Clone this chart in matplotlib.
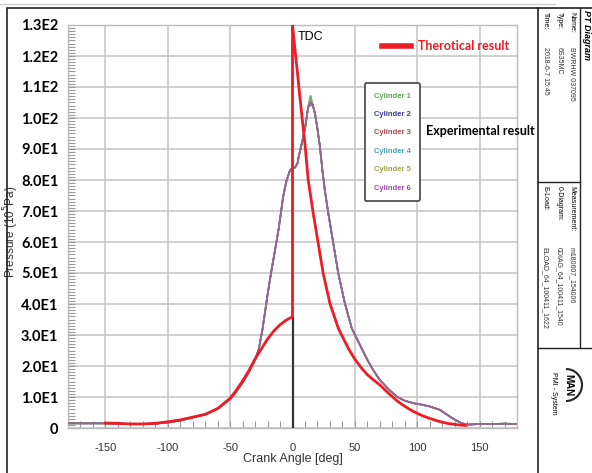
import numpy as np
import matplotlib
matplotlib.use("Agg")
import matplotlib.pyplot as plt
from matplotlib.patches import Rectangle, Arc
from matplotlib.lines import Line2D

plt.rcParams['font.family'] = ['Liberation Sans', 'DejaVu Sans']
plt.rcParams['axes.unicode_minus'] = False

# theoretical pressure trace (10^5 Pa) vs crank angle
theo_angle = [-150, -140, -130, -120, -110, -100, -90, -80, -70, -60, -50, -45, -40, -35,
              -30, -25, -20, -15, -10, -5, -2, 0, 0, 2, 4, 6, 8, 10, 12.6, 16.6, 20.6,
              24.6, 30, 36.7, 40, 45, 50, 55, 60, 65, 70, 77, 84, 90, 97, 104, 110, 117,
              124, 131, 138.6]
theo_p = [1.6, 1.5, 1.3, 1.3, 1.5, 2.0, 2.6, 3.5, 4.4, 6.3, 9.6, 12.2, 15.2, 18.5,
          22.3, 25.5, 28.7, 31.3, 33.3, 34.8, 35.5, 35.8, 130, 122, 114.5, 106.5, 99,
          91.5, 80, 69.3, 59.6, 49.9, 40.2, 32.2, 29.5, 25.5, 22.2, 19.5, 17.2, 15.5,
          13.9, 11.2, 8.7, 7.0, 5.3, 4.0, 3.1, 2.2, 1.5, 1.1, 0.8]

# measured trace (same shape for all cylinders, peaks differ slightly)
exp_angle = [-180, -170, -160, -150, -140, -130, -120, -110, -100, -90, -80, -70, -60,
             -50, -45, -40, -35, -30, -27, -24, -20, -17, -14, -11, -7.5, -5, -2, 0, 2,
             4, 5, 7, 10, 12.6, 14.5, 16, 18, 20, 22, 24, 26, 28.7, 32.7, 36.7, 42, 47.5,
             55, 60, 65, 70, 77, 84, 90, 97, 104, 110.5, 118.5, 122, 126.5, 131, 136, 141,
             150, 160, 170, 180]
exp_p = [1.5, 1.5, 1.5, 1.5, 1.4, 1.3, 1.3, 1.4, 1.8, 2.4, 3.4, 4.4, 6.2, 9.3, 11.8,
         14.6, 18.0, 22.0, 25.5, 32.0, 43.0, 50.5, 57.4, 64.5, 74.6, 79.5, 83.2, 83.8,
         84.0, 85.4, 87.5, 91.0, 96.5, 103.6, 106, 104.5, 101.5, 96.5, 90.7, 83.0, 76.5,
         69.3, 59.6, 49.9, 40.2, 32.2, 26.0, 22.0, 18.5, 15.5, 12.5, 10.0, 8.8, 8.0, 7.5,
         6.9, 5.8, 4.8, 3.6, 2.5, 1.5, 1.1, 1.3, 1.3, 1.4, 1.3]
cyl_names = ['Cylinder 1', 'Cylinder 2', 'Cylinder 3', 'Cylinder 4', 'Cylinder 5', 'Cylinder 6']
cyl_peak = [107.0, 104.0, 105.5, 107.2, 106.5, 105.0]
cyl_colors = ['#5fa655', '#3c3c9c', '#a34a4a', '#45a3a8', '#a3a34c', '#a04cb0']

y_ticks = [0, 10, 20, 30, 40, 50, 60, 70, 80, 90, 100, 110, 120, 130]
y_tick_labels = ['0', '1.0E1', '2.0E1', '3.0E1', '4.0E1', '5.0E1', '6.0E1', '7.0E1',
                 '8.0E1', '9.0E1', '1.0E2', '1.1E2', '1.2E2', '1.3E2']
x_ticks = [-150, -100, -50, 0, 50, 100, 150]

W, H = 592, 473


def fx(px):
    return px / W


def fy(py):
    return 1 - py / H


fig = plt.figure(figsize=(W / 100, H / 100), dpi=100)
ax = fig.add_axes([fx(68), fy(428), fx(517) - fx(68), fy(25) - fy(428)])

# experimental curves
peak_idx = exp_angle.index(14.5)
for name, pk, col in zip(cyl_names, cyl_peak, cyl_colors):
    vals = list(exp_p)
    vals[peak_idx] = pk
    ax.plot(exp_angle, vals, color=col, lw=1.2, alpha=0.75, label=name, zorder=3)

# TDC line and theoretical curve
ax.vlines(0, 0, theo_p[theo_angle.index(0)], color='#333333', lw=1.6, zorder=4)
red_line, = ax.plot(theo_angle, theo_p, color='#ee1c25', lw=2.0, zorder=5)

ax.set_xlim(-180, 180)
ax.set_ylim(0, 130)
ax.set_xticks(x_ticks)
ax.set_xticks(np.arange(-170, 180, 10), minor=True)
ax.set_yticks(y_ticks)
ax.set_yticks(np.arange(0, 131, 1), minor=True)
ax.set_yticklabels(y_tick_labels, fontfamily='Lato', fontweight='bold', fontsize=10.5)
ax.tick_params(axis='x', labelsize=8, labelcolor='#333333', pad=11)
ax.tick_params(which='both', direction='in', color='#999999', length=5, width=0.8)
ax.tick_params(axis='y', pad=7)
ax.grid(True, which='major', color='#c4c4c4', lw=1.1)
ax.set_axisbelow(True)
for sp in ax.spines.values():
    sp.set_color('#bbbbbb')
    sp.set_linewidth(1.0)

ax.set_xlabel('Crank Angle [deg]', fontsize=9, color='#333333', labelpad=0)
ax.set_ylabel('Pressure (10$^5$Pa)', fontsize=8.5, color='#333333')
ax.yaxis.set_label_coords(-0.104, 0.486)

ax.text(4.5, 126, 'TDC', fontsize=9, va='center', ha='left')

# legends
leg1 = ax.legend([red_line], ['Therotical result'], loc='center left',
                 bbox_to_anchor=(0.688, 0.948), frameon=False, handlelength=2.3,
                 handletextpad=0.6, labelcolor='#ee1c25', borderaxespad=0,
                 prop={'family': 'Lato', 'weight': 'bold', 'size': 9})
leg1.legend_handles[0].set_linewidth(4)
ax.add_artist(leg1)

leg2 = ax.legend(loc='upper left', bbox_to_anchor=(0.661, 0.856), handlelength=0,
                 handletextpad=0, labelcolor='linecolor', labelspacing=1.45,
                 borderpad=1.2, borderaxespad=0, fancybox=True, edgecolor='#444444',
                 framealpha=1, prop={'weight': 'bold', 'size': 5.5})
leg2.get_frame().set_linewidth(1.2)
for h in leg2.legend_handles:
    h.set_visible(False)
for t, col in zip(leg2.get_texts(), cyl_colors):
    t.set_color(col)

ax.text(0.918, 0.736, 'Experimental result', transform=ax.transAxes, ha='center',
        va='center', fontfamily='Lato', fontweight='bold', fontsize=9, clip_on=False)

# frame around chart and side panel
fig.add_artist(Line2D([0, fx(555)], [fy(4), fy(4)], color='#cccccc', lw=1))
fig.add_artist(Rectangle((fx(7), fy(480)), fx(538) - fx(7), fy(8) - fy(480),
                         fill=False, ec='#222222', lw=1.2))
fig.add_artist(Line2D([fx(538), fx(592)], [fy(8), fy(8)], color='#222222', lw=1.2))
fig.add_artist(Line2D([fx(580), fx(580)], [fy(8), fy(348)], color='#222222', lw=1.0))
fig.add_artist(Line2D([fx(538), fx(580)], [fy(182), fy(182)], color='#222222', lw=1.0))
fig.add_artist(Line2D([fx(538), fx(592)], [fy(348), fy(348)], color='#222222', lw=1.0))

fig.text(fx(586), fy(10), 'PT Diagram', rotation=-90, ha='center', va='top',
         fontsize=6.5, fontweight='bold', fontstyle='italic')
panel_rows = [(572, 'Name:', 'BWRHW 037095'), (559, 'Type:', '6S35MC'),
              (545, 'Time:', '2018-6-7 15:45')]
for x, lab, val in panel_rows:
    fig.text(fx(x), fy(12), lab, rotation=-90, ha='center', va='top', fontsize=5)
    fig.text(fx(x), fy(47), val, rotation=-90, ha='center', va='top', fontsize=5,
             color='#333333')
panel_rows2 = [(572, 'Measurement:', 'm180607_154006'),
               (559, '0-Diagram:', '0DIAG_64_100411_1540'),
               (545, 'E-Load:', 'ELOAD_64_100411_1622')]
for x, lab, val in panel_rows2:
    fig.text(fx(x), fy(186), lab, rotation=-90, ha='center', va='top', fontsize=5)
    fig.text(fx(x), fy(247), val, rotation=-90, ha='center', va='top', fontsize=5,
             color='#333333')

fig.text(fx(568), fy(385), 'MAN', rotation=-90, ha='center', va='center',
         fontsize=7, fontweight='bold')
fig.add_artist(Arc((fx(566), fy(385)), fx(32), 32 / H, theta1=-90, theta2=90,
                   color='#222222', lw=1.5, transform=fig.transFigure))
fig.text(fx(553), fy(372), 'PMI - System', rotation=-90, ha='center', va='top',
         fontsize=5)

fig.savefig('out.png', dpi=100)
